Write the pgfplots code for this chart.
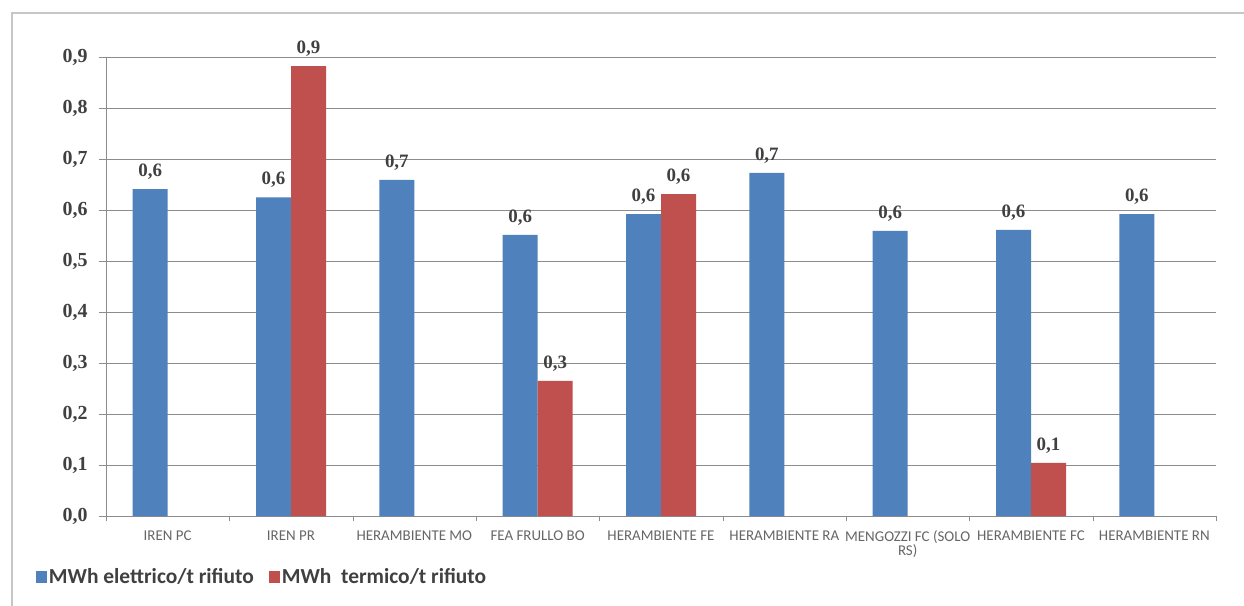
\documentclass[border=0pt]{standalone}
\usepackage{fontspec}
\setmainfont{Carlito}
\newfontfamily\numfont{Liberation Serif}
\usepackage{pgfplots}
\pgfplotsset{compat=1.18}
\definecolor{cblue}{HTML}{4F81BD}
\definecolor{cred}{HTML}{C0504D}
\definecolor{txt}{HTML}{404040}
\definecolor{gridc}{HTML}{8C8C8C}
\begin{document}
\begin{tikzpicture}
\useasboundingbox (0,0) rectangle (1244bp,606bp);
\fill[white] (0,0) rectangle (1244bp,606bp);
\draw[gray!45, line width=1.5bp] (12bp,0) -- (12bp,593bp) -- (1244bp,593bp);
\begin{axis}[
  at={(106bp,90bp)}, anchor=south west,
  scale only axis, width=1110bp, height=459bp,
  ybar=0pt, bar width=35bp,
  xmin=-0.5, xmax=8.5, ymin=0, ymax=0.9,
  xtick={0,...,8},
  xticklabels={IREN PC, IREN PR, HERAMBIENTE MO, FEA FRULLO BO, HERAMBIENTE FE, HERAMBIENTE RA, {MENGOZZI FC (SOLO\\RS)}, HERAMBIENTE FC, HERAMBIENTE RN},
  xticklabel style={font=\fontsize{15}{14}\selectfont, text=txt!80, align=center, anchor=north, yshift=-4bp},
  major x tick style={draw=none},
  minor xtick={-0.5,0.5,...,8.5},
  minor x tick style={gridc},
  minor tick length=5bp,
  ytick={0,0.1,...,0.9},
  ymajorgrids, grid style={gridc, line width=0.9bp},
  major tick length=7bp,
  tick align=outside,
  y tick style={gridc, line width=0.9bp},
  yticklabel style={font=\numfont\bfseries\fontsize{20}{20}\selectfont, text=txt, xshift=-8bp},
  /pgf/number format/assume math mode=true,
  /pgf/number format/.cd, use comma, fixed, fixed zerofill, precision=1, /pgfplots/.cd,
  axis x line*=bottom, axis y line*=left,
  axis line style={gridc, line width=0.9bp},
  nodes near coords,
  nodes near coords style={font=\numfont\bfseries\fontsize{19}{19}\selectfont, text=txt, yshift=6bp, /pgf/number format/.cd, use comma, fixed, fixed zerofill, precision=1},
  legend columns=2,
  legend style={at={(axis description cs:-0.066,-0.133)}, anchor=west, draw=none, fill=none, font=\bfseries\fontsize{21.5}{21}\selectfont, text=txt, /tikz/every even column/.append style={column sep=13bp}, nodes={inner xsep=2bp}},
  legend image code/.code={\fill[#1] (0bp,-6bp) rectangle (11bp,6bp);},
  clip=false,
]
\addplot[fill=cblue, draw=none] coordinates {(0,0.641) (1,0.625) (2,0.659) (3,0.551) (4,0.592) (5,0.673) (6,0.559) (7,0.561) (8,0.592)};
\addplot[fill=cred, draw=none] coordinates {(1,0.882) (3,0.265) (4,0.631) (7,0.104)};
\legend{MWh elettrico/t rifiuto, MWh\ \ termico/t rifiuto}
\end{axis}
\end{tikzpicture}
\end{document}
